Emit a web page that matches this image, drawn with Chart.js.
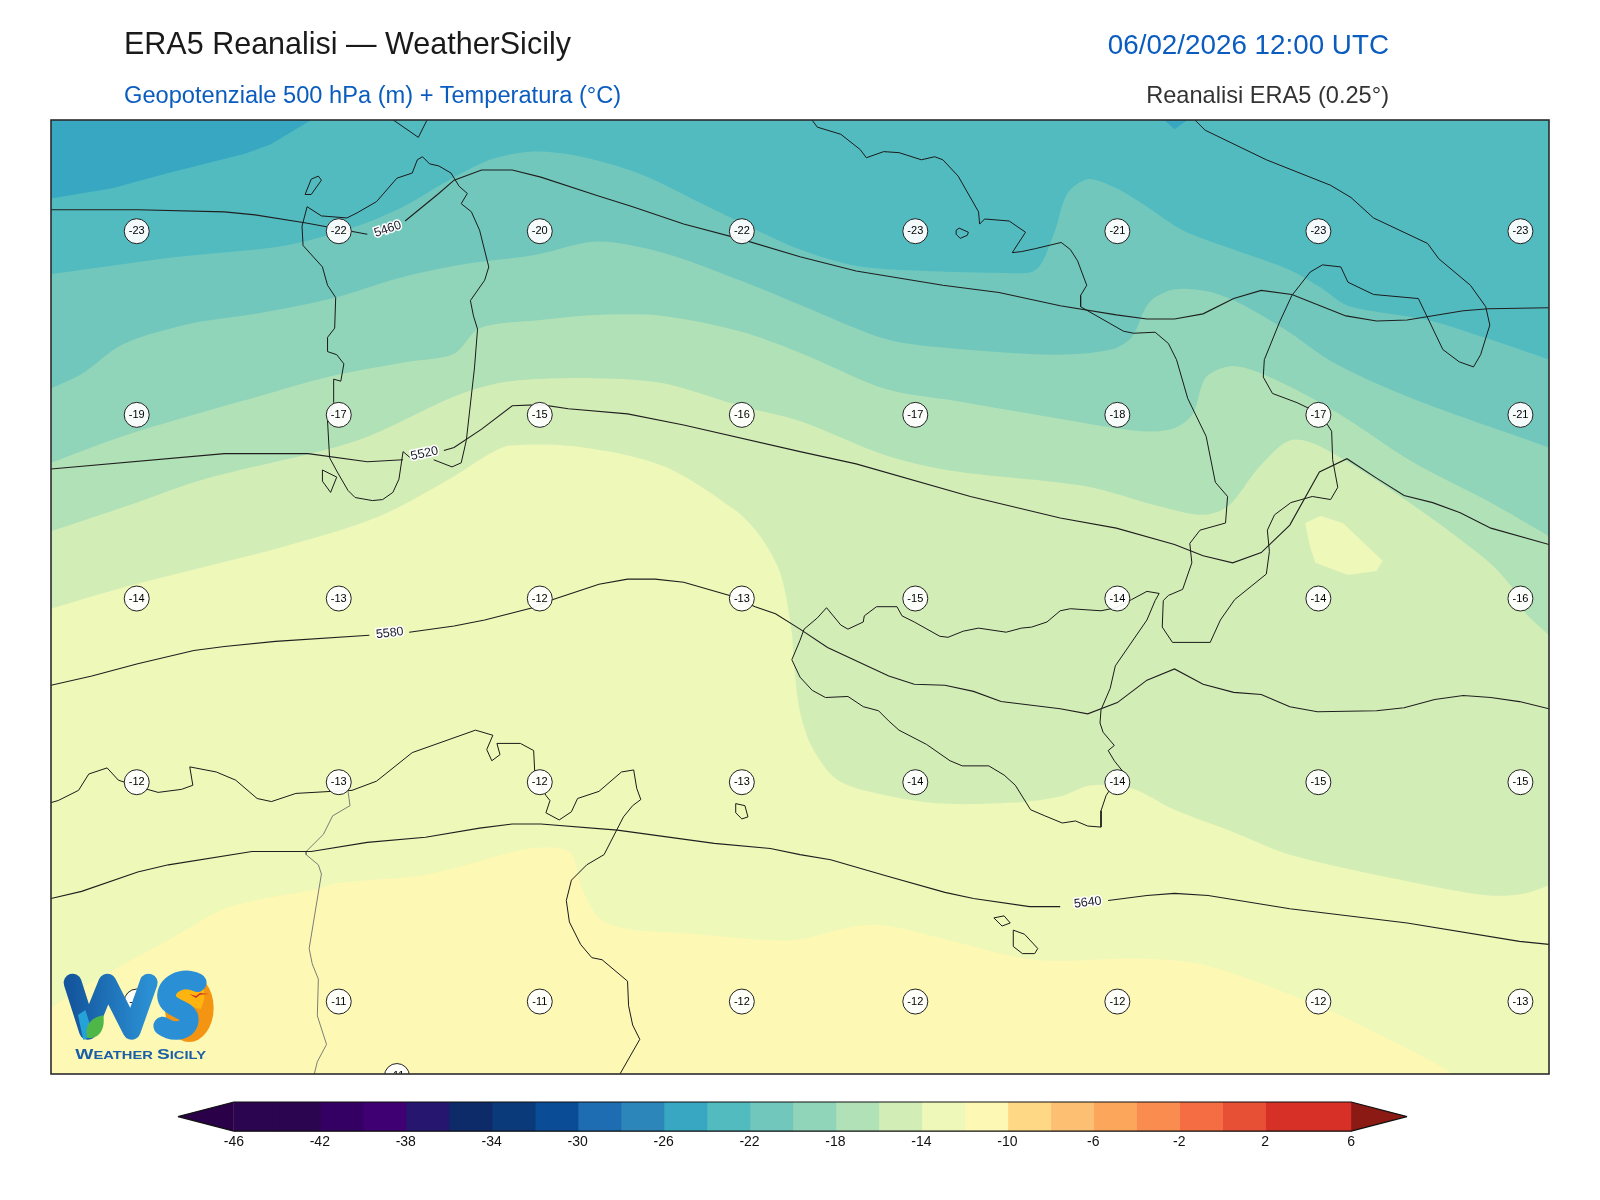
<!DOCTYPE html>
<html>
<head>
<meta charset="utf-8">
<title>ERA5 Reanalisi</title>
<script src="https://cdn.jsdelivr.net/npm/chart.js"></script>
<style>
  body { margin: 0; background: #fff; font-family: "Liberation Sans", Arial, sans-serif; }
  #page { position: relative; width: 1600px; height: 1200px; overflow: hidden; }
  canvas { position: absolute; left: 0; }
  #map { top: 0; }
  #colorbar { top: 1095px; }
  .head { position: absolute; white-space: nowrap; line-height: 1; }
  #title { left: 124px; top: 28px; font-size: 30.5px; color: #1a1a1a; }
  #date { right: 211px; top: 31px; font-size: 27.8px; color: #0a5cbf; }
  #subtitle { left: 124px; top: 84px; font-size: 23.65px; color: #0a5cbf; }
  #source { right: 211px; top: 84px; font-size: 23.6px; color: #333; }
  #logo { position: absolute; left: 50px; top: 960px; }
</style>
</head>
<body>
<div id="page">
  <canvas id="map" width="1600" height="1200"></canvas>
  <canvas id="colorbar" width="1600" height="75"></canvas>
  <div class="head" id="title">ERA5 Reanalisi — WeatherSicily</div>
  <div class="head" id="date">06/02/2026 12:00 UTC</div>
  <div class="head" id="subtitle">Geopotenziale 500 hPa (m) + Temperatura (°C)</div>
  <div class="head" id="source">Reanalisi ERA5 (0.25°)</div>
  <svg id="logo" width="180" height="115" viewBox="0 0 540 345">
    <defs>
      <linearGradient id="wBlue" x1="0" y1="0" x2="1" y2="0">
        <stop offset="0" stop-color="#14579f"/><stop offset="1" stop-color="#2b8fd3"/>
      </linearGradient>
    </defs>
    <path d="M68 68 L114 212 L172 68 L245 212 L296 68" fill="none" stroke="url(#wBlue)" stroke-width="54" stroke-linecap="round" stroke-linejoin="round"/>
    <path d="M84 165 L106 150 L130 225 L100 240 Z" fill="#25a3d8"/>
    <path d="M112 234 C102 195 125 172 160 166 C166 205 150 238 112 234 Z" fill="#4fb748"/>
    <ellipse cx="418" cy="144" rx="73" ry="102" fill="#f39512"/>
    <path d="M372 92 C385 60 425 52 452 66 C470 92 464 125 452 148 C415 135 378 125 372 92 Z" fill="#fdb40f"/>
    <path d="M442 68 C395 46 345 75 350 112 C355 150 420 145 418 180 C415 218 365 218 338 198" fill="none" stroke="#2b8fd6" stroke-width="56" stroke-linecap="round"/>
    <path d="M418 102 L438 108 L450 99 L476 102 L450 104 L438 114 Z" fill="#d3302a"/>
    <text x="76" y="297" fill="#1a5ea8" font-family="Liberation Sans" font-weight="bold" font-size="33" textLength="392" lengthAdjust="spacingAndGlyphs"><tspan font-size="43">W</tspan>EATHER <tspan font-size="43">S</tspan>ICILY</text>
  </svg>
</div>
<script>
// Map grid: x runs east 0-1468, y runs north 0-935. Lines are flat x,y lists.
const mapWidth = 1468;
const mapHeight = 935;

// Temperature fields at 500 hPa (boundaries between the shaded classes)
const coldCorner = [0,935, 255,935, 215,911, 190,902, 115,883, 60,868, 0,858];
const coldNotch = [1091,935, 1101,926, 1114,935];
const iso22 = [0,784, 65,793, 125,801, 230,812, 300,831, 345,850, 390,876, 430,896, 470,904, 515,900, 575,883, 650,847, 700,823, 734,808, 784,793, 834,788, 934,785, 961,786, 971,795, 984,827, 996,863, 1016,877, 1044,868, 1074,850, 1109,827, 1159,808, 1214,788, 1244,771, 1271,753, 1349,739, 1404,722, 1468,700, 1520,680, 1520,-60, -60,-60];
const iso20 = [0,672, 30,686, 70,715, 135,735, 200,745, 275,760, 340,780, 400,793, 475,803, 535,816, 600,805, 675,778, 734,754, 819,720, 884,711, 984,705, 1039,710, 1059,722, 1076,756, 1101,769, 1134,767, 1164,756, 1209,730, 1259,696, 1334,662, 1468,614, 1520,595, 1520,-60, -60,-60];
const iso18 = [0,599, 70,625, 150,649, 210,666, 275,684, 350,698, 395,706, 420,731, 480,739, 535,744, 600,743, 675,728, 734,707, 819,671, 884,660, 984,643, 1069,630, 1101,633, 1119,647, 1132,683, 1159,694, 1199,681, 1259,649, 1334,600, 1409,561, 1468,527, 1520,497, 1520,-60, -60,-60];
const iso16 = [0,532, 75,557, 150,583, 300,621, 400,666, 450,679, 535,682, 600,677, 675,655, 734,640, 819,606, 884,591, 1014,576, 1084,557, 1129,548, 1154,557, 1184,595, 1214,621, 1244,615, 1324,565, 1404,506, 1431,478, 1444,453, 1468,430, 1520,380, 1520,-60, -60,-60];
const iso14 = [0,456, 75,478, 150,497, 225,516, 320,546, 390,583, 430,608, 450,616, 515,615, 600,596, 670,553, 695,527, 715,490, 726,432, 728,402, 734,355, 746,320, 771,288, 819,273, 874,265, 944,266, 989,272, 1019,283, 1059,280, 1099,260, 1159,237, 1214,215, 1334,188, 1409,175, 1444,177, 1468,185, 1520,205, 1520,-60, -60,-60];
const warmPocket = [1229,540, 1244,547, 1266,540, 1305,503, 1299,493, 1271,489, 1239,501, 1234,516];
const iso12 = [0,65, 45,93, 85,115, 120,134, 165,160, 200,170, 260,181, 280,187, 360,194, 400,203, 450,217, 479,222, 509,217, 520,183, 537,153, 565,142, 620,138, 705,131, 734,132, 789,145, 821,145, 884,130, 944,115, 984,111, 1074,113, 1134,106, 1234,70, 1299,40, 1374,0, 1420,-40, -60,-40];

// Geopotential contours, broken where the label sits
const z5460West = [0,847, 85,847, 170,845, 200,842, 250,834, 310,823];
const z5460East = [347,836, 380,863, 395,876, 422,886, 452,886, 480,879, 535,861, 570,850, 620,833, 677,818, 734,801, 789,787, 874,773, 929,766, 989,753, 1044,744, 1074,740, 1101,740, 1129,745, 1159,760, 1186,768, 1216,764, 1269,743, 1299,738, 1329,739, 1384,748, 1409,750, 1468,751];
const z5520West = [0,593, 170,608, 252,608, 310,600, 345,602];
const z5520East = [385,611, 395,614, 422,632, 452,655, 480,656, 507,652, 565,647, 620,636, 734,610, 789,598, 901,566, 989,545, 1044,535, 1101,519, 1129,508, 1158,501, 1186,511, 1214,538, 1243,590, 1270,603, 1299,584, 1326,567, 1354,560, 1381,550, 1411,535, 1468,519];
const z5580West = [0,381, 40,390, 85,402, 140,415, 170,419, 220,424, 312,430];
const z5580East = [351,433, 395,439, 425,445, 472,457, 492,465, 537,480, 565,485, 592,485, 620,482, 665,469, 690,458, 710,451, 734,436, 761,418, 821,390, 846,382, 876,381, 904,375, 931,365, 989,358, 1016,353, 1045,364, 1074,386, 1101,397, 1129,382, 1159,374, 1186,372, 1214,360, 1241,355, 1299,356, 1326,359, 1356,367, 1384,371, 1411,369, 1439,365, 1468,358];
const z5640West = [0,172, 30,179, 85,198, 115,205, 197,218, 255,218, 310,227, 367,232, 420,241, 452,245, 480,245, 555,239, 650,226, 705,221, 734,215, 764,210, 819,194, 876,178, 904,172, 959,164, 989,164];
const z5640East = [1036,170, 1074,175, 1101,177, 1134,175, 1214,162, 1329,148, 1439,130, 1468,127];

const contourLabelText = ['5460', '5520', '5580', '5640'];
const contourLabelX = [330, 366, 332, 1016];
const contourLabelY = [828, 608, 432, 168];
const contourLabelAngle = [-19, -12, -7, -7];

// Coastlines and the one land border
const corsica = [334,936, 360,918, 369,936];
const sardinia = [352,604, 345,610, 341,583, 335,570, 325,563, 315,562, 298,565, 291,572, 280,591, 273,604, 271,640, 277,658, 277,681, 284,679, 287,696, 280,705, 271,708, 271,722, 278,731, 279,761, 271,773, 266,791, 247,812, 246,831, 251,850, 265,841, 290,839, 300,844, 319,855, 339,878, 354,883, 359,896, 364,899, 371,892, 380,890, 392,883, 400,870, 408,863, 402,853, 412,845, 420,827, 429,791, 425,778, 411,758, 414,743, 418,730, 415,692, 407,621, 402,599, 393,595, 375,602];
const asinara = [249,862, 255,877, 262,880, 265,876, 255,862, 249,862];
const antioco = [266,592, 280,585, 274,570, 266,581, 266,592];
const ischia = [887,827, 890,829, 899,825, 898,822, 891,819, 887,823, 887,827];
const italy = [745,936, 751,928, 774,921, 793,906, 799,898, 816,904, 831,903, 853,896, 866,899, 874,896, 889,880, 909,845, 910,833, 915,838, 939,836, 955,825, 942,805, 951,806, 965,809, 990,815, 999,808, 1006,797, 1015,773, 1009,763, 1009,752, 1051,728, 1061,726, 1082,727, 1095,716, 1103,700, 1114,662, 1132,625, 1141,580, 1153,566, 1151,540, 1126,533, 1116,520, 1118,501, 1109,475, 1095,469, 1090,464, 1089,438, 1099,423, 1136,423, 1146,445, 1160,465, 1191,490, 1194,512, 1192,533, 1199,548, 1215,560, 1236,566, 1254,563, 1261,575, 1256,602, 1255,630, 1244,647, 1221,658, 1197,667, 1188,683, 1189,700, 1204,737, 1216,763, 1234,786, 1246,793, 1264,791, 1271,776, 1296,764, 1340,760, 1364,710, 1380,698, 1394,693, 1401,705, 1410,734, 1406,752, 1391,773, 1360,799, 1349,814, 1296,839, 1274,859, 1254,871, 1191,896, 1131,925, 1120,936];
const sicily = [734,425, 738,436, 751,447, 760,457, 774,440, 781,436, 796,443, 797,449, 809,458, 829,458, 834,449, 846,443, 871,429, 879,428, 894,434, 909,437, 936,433, 951,437, 961,438, 976,443, 989,454, 999,456, 1029,454, 1044,457, 1059,465, 1074,473, 1086,471, 1082,464, 1074,445, 1043,400, 1038,378, 1029,357, 1028,344, 1031,335, 1042,322, 1036,317, 1042,307, 1050,297, 1034,273, 1029,258, 1029,242, 1016,243, 1004,248, 991,246, 974,253, 960,259, 945,283, 934,293, 919,302, 893,302, 881,307, 858,323, 831,337, 821,346, 811,356, 796,360, 781,370, 759,369, 746,376, 734,389, 726,406, 734,425];
const africa = [0,266, 7,268, 27,278, 37,294, 55,300, 66,288, 84,282, 105,276, 128,279, 139,283, 136,301, 162,296, 181,288, 202,270, 216,267, 240,275, 275,277, 295,278, 319,287, 354,315, 416,337, 433,332, 427,318, 432,307, 440,313, 437,324, 460,324, 473,317, 474,297, 485,273, 489,268, 485,256, 498,249, 510,257, 516,270, 537,277, 559,296, 571,298, 574,280, 578,269, 570,263, 561,252, 542,215, 525,205, 510,190, 505,170, 508,149, 519,127, 530,114, 540,112, 565,91, 566,67, 570,48, 577,34, 557,-1];
const lampedusa = [671,265, 680,263, 683,252, 677,250, 671,256, 671,265];
const gozo = [924,153, 934,155, 940,148, 932,145, 924,153];
const malta = [943,141, 954,137, 967,123, 964,118, 952,118, 943,125, 943,141];
const tunisBorder = [291,278, 293,263, 276,253, 267,235, 250,218, 250,215, 262,205, 265,196, 253,123, 256,108, 262,93, 261,57, 270,29, 261,12, 258,0];

// Temperature read-outs on the station grid
const tempX = [84, 282, 479, 677, 847, 1045, 1242, 1440];
const tempY = [826, 646, 466, 286, 71];
const tempRow1 = [-23, -22, -20, -22, -23, -21, -23, -23];
const tempRow2 = [-19, -17, -15, -16, -17, -18, -17, -21];
const tempRow3 = [-14, -13, -12, -13, -15, -14, -14, -16];
const tempRow4 = [-12, -13, -12, -13, -14, -14, -15, -15];
const tempRow5 = [-11, -11, -11, -12, -12, -12, -12, -13];
const extraTempX = 339;
const extraTempY = -2;
const extraTemp = -11;

// Colour scale
const colorLevels = [-46,-44,-42,-40,-38,-36,-34,-32,-30,-28,-26,-24,-22,-20,-18,-16,-14,-12,-10,-8,-6,-4,-2,0,2,4,6];
const colorValues = ['#2b0550','#2b0550','#340063','#3f0073','#261670','#0d2b69','#0b3a7a','#0a4c95','#1e6db2','#2d86ba','#38a7c2','#52bbc0','#71c7bc','#90d4b9','#b1e1b7','#d3edb7','#edf8b9','#fef8b5','#fed884','#fdc072','#fca65c','#fa8c50','#f46d43','#e75034','#d73027','#d73027'];
const colorTicks = [-46,-42,-38,-34,-30,-26,-22,-18,-14,-10,-6,-2,2,6];
const underColor = '#2a0048';
const overColor = '#8b1a14';

const colorOf = t => colorValues[colorLevels.indexOf(t)];

function toPoints(list) {
  const pts = [];
  for (let i = 0; i < list.length; i += 2) pts.push({ x: list[i], y: list[i + 1] });
  return pts;
}
function shape(list, color, order, tension) {
  return { data: toPoints(list), showLine: true, fill: 'shape', backgroundColor: color,
    borderColor: 'rgba(0,0,0,0)', borderWidth: 1, pointRadius: 0, order, tension: tension || 0 };
}
function stroke(list, color, width, order) {
  return { data: toPoints(list), showLine: true, fill: false, borderColor: color,
    borderWidth: width, pointRadius: 0, order };
}

const mapFrame = [0,0, mapWidth,0, mapWidth,mapHeight, 0,mapHeight];
const bands = [
  [mapFrame, colorOf(-24), 0], [coldCorner, colorOf(-26), 0], [coldNotch, colorOf(-26), 0],
  [iso22, colorOf(-22), 0.3], [iso20, colorOf(-20), 0.3], [iso18, colorOf(-18), 0.3], [iso16, colorOf(-16), 0.3],
  [iso14, colorOf(-14), 0.3], [warmPocket, colorOf(-14), 0], [iso12, colorOf(-12), 0.3]
];
const lineColor = '#1f1f1f';
const contours = [z5460West, z5460East, z5520West, z5520East, z5580West, z5580East, z5640West, z5640East];
const coasts = [corsica, sardinia, asinara, antioco, ischia, italy, sicily, africa, lampedusa, gozo, malta];

const tempRows = [tempRow1, tempRow2, tempRow3, tempRow4, tempRow5];
const tempPoints = [];
tempRows.forEach((row, r) => row.forEach((v, c) => tempPoints.push({ x: tempX[c], y: tempY[r], v })));
tempPoints.push({ x: extraTempX, y: extraTempY, v: extraTemp });

const mapLabels = {
  id: 'mapLabels',
  afterDatasetsDraw(chart) {
    const { ctx, chartArea: a, scales: { x, y } } = chart;
    ctx.save();
    ctx.beginPath();
    ctx.rect(a.left, a.top, a.width, a.height);
    ctx.clip();
    ctx.textAlign = 'center';
    ctx.textBaseline = 'middle';
    contourLabelText.forEach((t, i) => {
      ctx.save();
      ctx.translate(x.getPixelForValue(contourLabelX[i]), y.getPixelForValue(contourLabelY[i]));
      ctx.rotate(contourLabelAngle[i] * Math.PI / 180);
      ctx.font = '12.5px "Liberation Sans"';
      ctx.lineWidth = 3;
      ctx.strokeStyle = '#fff';
      ctx.strokeText(t, 0, 0);
      ctx.fillStyle = '#1c1c2c';
      ctx.fillText(t, 0, 0);
      ctx.restore();
    });
    ctx.font = '11px "Liberation Sans"';
    ctx.fillStyle = '#000';
    tempPoints.forEach(p => ctx.fillText(String(p.v), x.getPixelForValue(p.x), y.getPixelForValue(p.y)));
    ctx.restore();
    // frame
    ctx.save();
    ctx.strokeStyle = '#2b2b2b';
    ctx.lineWidth = 1.6;
    ctx.strokeRect(a.left, a.top, a.width, a.height);
    ctx.restore();
  }
};

new Chart(document.getElementById('map'), {
  type: 'scatter',
  data: {
    datasets: [
      { data: tempPoints, pointRadius: 12.5, pointBackgroundColor: 'rgba(255,255,255,0.93)',
        pointBorderColor: '#222', pointBorderWidth: 1, showLine: false, order: 1 },
      ...contours.map(c => stroke(c, lineColor, 1.1, 2)),
      ...coasts.map(c => stroke(c, '#1a1a1a', 1, 3)),
      stroke(tunisBorder, '#6e6e6e', 0.9, 4),
      ...bands.map((b, i) => shape(b[0], b[1], 100 - i, b[2]))
    ]
  },
  options: {
    responsive: false,
    animation: false,
    events: [],
    layout: { padding: { left: 51, right: 51, top: 120, bottom: 126 } },
    plugins: { legend: { display: false }, tooltip: { enabled: false }, title: { display: false } },
    scales: {
      x: { type: 'linear', display: false, min: 0, max: mapWidth },
      y: { type: 'linear', display: false, min: 0, max: mapHeight }
    }
  },
  plugins: [mapLabels]
});

// Colour bar: one rectangle per class plus the two extension tips
const barLow = colorLevels[0];
const barHigh = colorLevels[colorLevels.length - 1];
const tipLength = 2.6;
const barSets = colorValues.map((c, i) => {
  const lo = colorLevels[i], hi = colorLevels[i + 1];
  return { data: toPoints([lo,0, hi,0, hi,1, lo,1]), showLine: true, fill: 'shape', backgroundColor: c,
    borderColor: c, borderWidth: 1.5, pointRadius: 0, order: 5 + i };
});
const underTip = [barLow,0, barLow - tipLength,0.5, barLow,1];
const overTip = [barHigh,0, barHigh + tipLength,0.5, barHigh,1];
const barOutline = [barLow,0, barLow - tipLength,0.5, barLow,1, barHigh,1, barHigh + tipLength,0.5, barHigh,0, barLow,0];

new Chart(document.getElementById('colorbar'), {
  type: 'scatter',
  data: {
    datasets: [
      Object.assign(stroke(barOutline, '#111', 1.2, 0), { clip: false, borderJoinStyle: 'bevel' }),
      shape(underTip, underColor, 4),
      shape(overTip, overColor, 4),
      ...barSets
    ]
  },
  options: {
    responsive: false,
    animation: false,
    events: [],
    layout: { padding: { left: 178, right: 193, top: 7, bottom: 16 } },
    plugins: { legend: { display: false }, tooltip: { enabled: false } },
    scales: {
      x: {
        type: 'linear',
        min: barLow - tipLength,
        max: barHigh + tipLength,
        afterBuildTicks(axis) { axis.ticks = colorTicks.map(value => ({ value })); },
        grid: { display: false, drawTicks: false },
        border: { display: false },
        ticks: { autoSkip: false, maxRotation: 0, padding: 3, color: '#111',
          font: { family: 'Liberation Sans', size: 14 }, callback: v => String(v) }
      },
      y: { type: 'linear', display: false, min: 0, max: 1 }
    }
  }
});
</script>
</body>
</html>
